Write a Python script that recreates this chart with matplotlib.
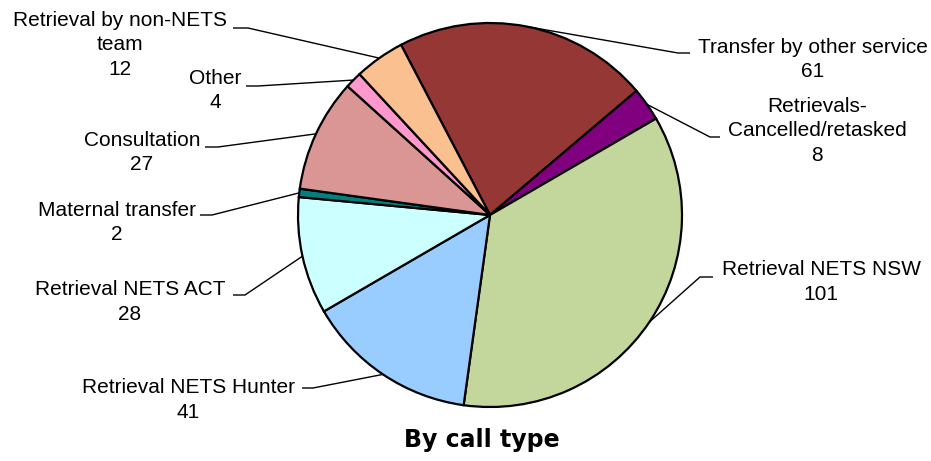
import matplotlib
matplotlib.use("Agg")
import matplotlib.pyplot as plt
import numpy as np

# data, clockwise from the "Transfer by other service" slice
categories = [
    "Transfer by other service",
    "Retrievals-\nCancelled/retasked",
    "Retrieval NETS NSW",
    "Retrieval NETS Hunter",
    "Retrieval NETS ACT",
    "Maternal transfer",
    "Consultation",
    "Other",
    "Retrieval by non-NETS\nteam",
]
counts = [61, 8, 101, 41, 28, 2, 27, 4, 12]
colors = ["#953735", "#800080", "#C3D69B", "#99CCFF", "#CCFFFF",
          "#008080", "#D99694", "#FF99CC", "#FAC090"]

W, H = 931, 461
LINE_H = 24.5

# label layout in pixels (y down): text centre x, text top y,
# stub x at text side, stub x outer end, stub y
label_layout = [
    (813, 38, 690, 678, 53),
    (817, 97, 720, 710, 137),
    (821, 260, 713, 700, 277),
    (188, 378, 302, 313, 388),
    (130, 280, 233, 245, 295),
    (117, 201, 200, 212, 215),
    (142, 131, 205, 218, 147),
    (215, 69, 246, 258, 86),
    (120, 11, 233, 248, 28),
]


def py(y):
    return H - y


fig = plt.figure(figsize=(W / 100, H / 100), dpi=100)
ax = fig.add_axes([0, 0, 1, 1])

center = (490, py(215))
radius = 192
wedges, _ = ax.pie(
    counts,
    colors=colors,
    startangle=117.6,
    counterclock=False,
    center=center,
    radius=radius,
    wedgeprops=dict(edgecolor="black", linewidth=1.6),
)
ax.set_xlim(0, W)
ax.set_ylim(0, H)
ax.set_aspect("equal")
ax.axis("off")

text_kw = dict(ha="center", va="top", fontsize=15, family="Liberation Sans",
               linespacing=1.35, color="black")

for wedge, label, value, (tx, ty, sx_in, sx_out, sy) in zip(
    wedges, categories, counts, label_layout
):
    mid = np.deg2rad((wedge.theta1 + wedge.theta2) / 2)
    ex = wedge.center[0] + wedge.r * np.cos(mid)
    ey = wedge.center[1] + wedge.r * np.sin(mid)
    ax.plot([ex, sx_out, sx_in], [ey, py(sy), py(sy)], color="black",
            linewidth=1.0, solid_capstyle="butt")
    n_lines = label.count("\n") + 1
    ax.text(tx, py(ty), label, **text_kw)
    ax.text(tx, py(ty + n_lines * LINE_H), str(value), **text_kw)

ax.text(482, py(440), "By call type", ha="center", va="center",
        fontsize=17, fontweight="bold", family="DejaVu Sans")

fig.savefig("out.png", dpi=100)
